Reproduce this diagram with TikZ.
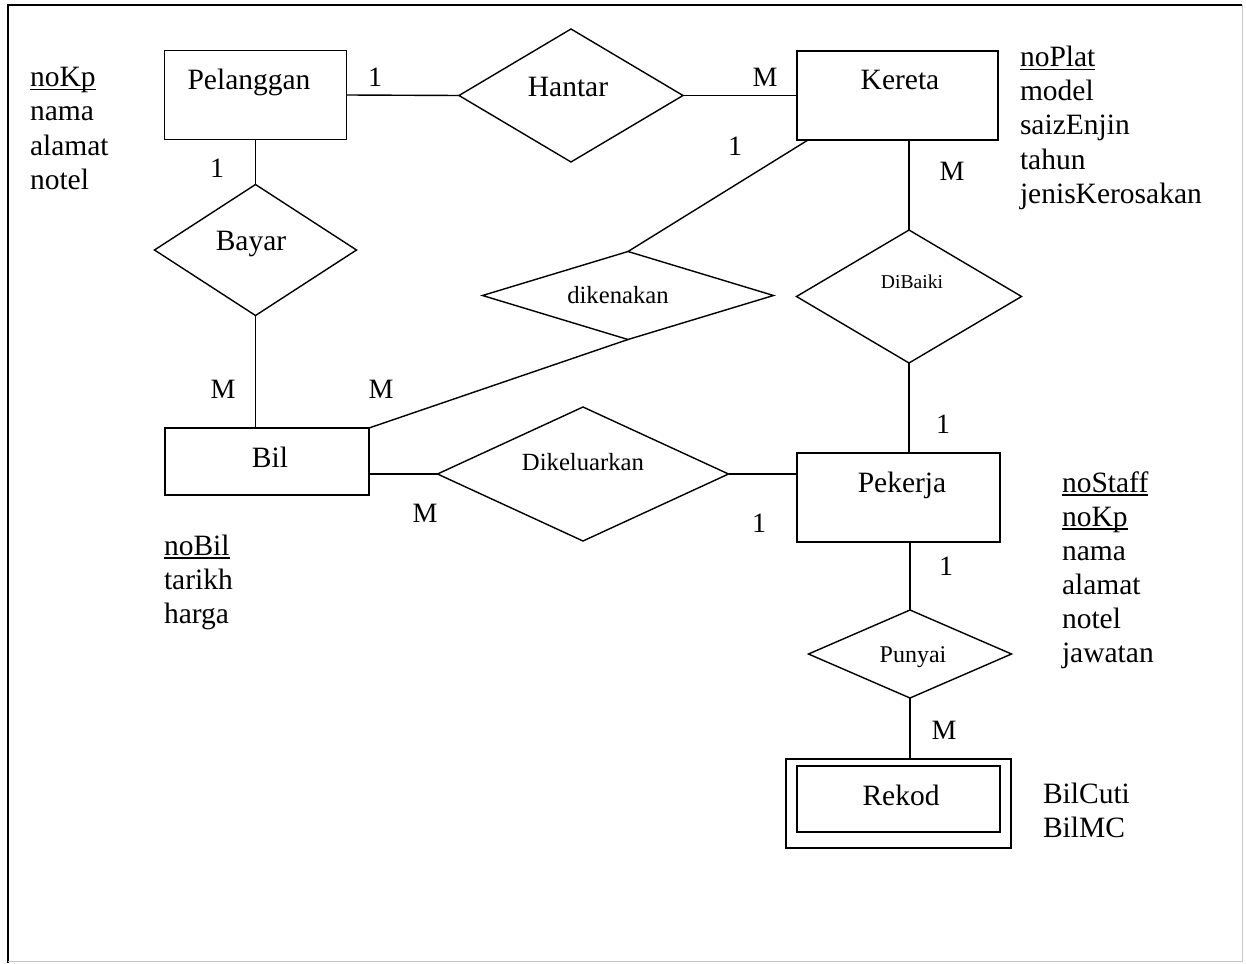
\documentclass[tikz,border=0pt]{standalone}
\usepackage{fontspec}
\setmainfont{Liberation Serif}
\usetikzlibrary{shapes.geometric,calc}
\newcommand\keyu[1]{\setbox0\hbox{#1}\rlap{\rule[-3.5pt]{\wd0}{1.3pt}}\box0}
\begin{document}
\begin{tikzpicture}[x=1pt,y=-1pt,
  every node/.style={inner sep=0pt,outer sep=0pt},
  ent/.style={draw,line width=1.4pt,rectangle},
  rel/.style={draw,line width=1.4pt,diamond},
  conn/.style={line width=1.4pt},
  txt/.style={font=\fontsize{29.5}{34}\selectfont,anchor=base},
  attr/.style={font=\fontsize{29.5}{34}\selectfont,anchor=base west},
  card/.style={font=\fontsize{28}{34}\selectfont,anchor=base},
  rtxt/.style={font=\fontsize{24.7}{30}\selectfont,anchor=base},
]
\useasboundingbox[fill=white] (0,0) rectangle (1246,963);
% frame
\draw[line width=1.5pt] (8,963) -- (8,5) -- (1242,5);
\draw[gray!45,line width=1pt] (1242,5) -- (1242,961) -- (8,961);

% entities
\node[ent,minimum width=182pt,minimum height=89pt] (pel) at (255.5,95) {};
\node[ent,minimum width=201pt,minimum height=89pt] (ker) at (897.5,95.5) {};
\node[ent,minimum width=204pt,minimum height=67pt] (bil) at (267,461.5) {};
\node[ent,minimum width=203pt,minimum height=89pt] (pek) at (898.5,497.5) {};
\node[ent,minimum width=225pt,minimum height=89pt] (reko) at (898.5,803.5) {};
\node[ent,minimum width=203pt,minimum height=66pt] (reki) at (898.5,799) {};

% relationships
\node[rel,minimum width=224pt,minimum height=133pt] (hantar) at (571,95.5) {};
\node[rel,minimum width=202pt,minimum height=131pt] (bayar) at (255.5,250) {};
\node[rel,minimum width=291pt,minimum height=88pt] (dik) at (628,295.5) {};
\node[rel,minimum width=291pt,minimum height=134pt] (dikel) at (583,474) {};
\node[rel,minimum width=225pt,minimum height=133pt] (dib) at (909,296.5) {};
\node[rel,minimum width=203pt,minimum height=88pt] (pun) at (910,654) {};

% texts in shapes
\node[txt] (tpel) at (249,90) {Pelanggan};
\node[txt] (thantar) at (568,97) {Hantar};
\node[txt] (tker) at (900,90) {Kereta};
\node[txt] (tbayar) at (251,250) {Bayar};
\node[rtxt] (tdik) at (618,303) {dikenakan};
\node[anchor=base,font=\fontsize{19.6}{24}\selectfont] (tdib) at (912,288) {DiBaiki};
\node[txt] (tbil) at (270,467) {Bil};
\node[rtxt] (tdikel) at (583,470) {Dikeluarkan};
\node[txt] (tpek) at (902,492) {Pekerja};
\node[anchor=base,font=\fontsize{24}{30}\selectfont] (tpun) at (913,662) {Punyai};
\node[txt] (trek) at (901,805) {Rekod};

% connectors
\draw[conn] (pel.east) -- (hantar.west);
\draw[conn] (hantar.east) -- (ker.west);
\draw[conn] (pel.south) -- (bayar.north);
\draw[conn] (bayar.south) -- (bayar.south |- bil.north);
\draw[conn] ($(ker.south west)+(11,0)$) -- (dik.north);
\draw[conn] (dik.south) -- (bil.north east);
\draw[conn] (bil.east |- dikel.west) -- (dikel.west);
\draw[conn] (dikel.east) -- (pek.west |- dikel.east);
\draw[conn] (dib.north |- ker.south) -- (dib.north);
\draw[conn] (dib.south) -- (dib.south |- pek.north);
\draw[conn] (pun.north |- pek.south) -- (pun.north);
\draw[conn] (pun.south) -- (pun.south |- reko.north);

% cardinalities
\node[card] (c1) at (375,87) {1};
\node[card] (c2) at (765,87) {M};
\node[card] (c3) at (735,155) {1};
\node[card] (c4) at (217,177) {1};
\node[card] (c5) at (952,180) {M};
\node[card] (c6) at (223,398) {M};
\node[card] (c7) at (381,398) {M};
\node[card] (c8) at (425,522) {M};
\node[card] (c9) at (759,532) {1};
\node[card] (c10) at (943,433) {1};
\node[card] (c11) at (946,575) {1};
\node[card] (c12) at (944,739) {M};

% attributes
\node[attr] (pa1) at (30,87) {\keyu{noKp}};
\node[attr] (pa2) at (30,121) {nama};
\node[attr] (pa3) at (30,155) {alamat};
\node[attr] (pa4) at (30,189) {notel};

\node[attr] (ka1) at (1020,67) {\keyu{noPlat}};
\node[attr] (ka2) at (1020,101) {model};
\node[attr] (ka3) at (1020,135) {saizEnjin};
\node[attr] (ka4) at (1020,169) {tahun};
\node[attr] (ka5) at (1020,203) {jenisKerosakan};

\node[attr] (ba1) at (164,555) {\keyu{noBil}};
\node[attr] (ba2) at (164,589) {tarikh};
\node[attr] (ba3) at (164,623) {harga};

\node[attr] (ea1) at (1062,492) {\keyu{noStaff}};
\node[attr] (ea2) at (1062,526) {\keyu{noKp}};
\node[attr] (ea3) at (1062,560) {nama};
\node[attr] (ea4) at (1062,594) {alamat};
\node[attr] (ea5) at (1062,628) {notel};
\node[attr] (ea6) at (1062,662) {jawatan};

\node[attr] (ra1) at (1043,803) {BilCuti};
\node[attr] (ra2) at (1043,837) {BilMC};
\end{tikzpicture}
\end{document}
